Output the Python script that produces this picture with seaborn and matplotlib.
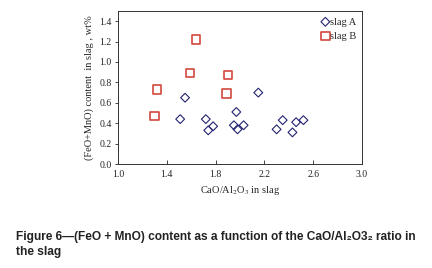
import matplotlib
matplotlib.use("Agg")
import matplotlib.pyplot as plt
import pandas as pd
import seaborn as sns

# slag A (diamonds)
ratio_a = [1.51, 1.55, 1.72, 1.74, 1.78, 1.95, 1.97, 1.98, 2.03, 2.15, 2.30, 2.35, 2.43, 2.46, 2.52]
feo_mno_a = [0.44, 0.65, 0.44, 0.33, 0.37, 0.38, 0.51, 0.34, 0.38, 0.70, 0.34, 0.43, 0.31, 0.41, 0.43]

# slag B (squares)
ratio_b = [1.32, 1.30, 1.64, 1.59, 1.90, 1.89]
feo_mno_b = [0.73, 0.47, 1.22, 0.89, 0.87, 0.69]

df = pd.concat([
    pd.DataFrame({"ratio": ratio_a, "content": feo_mno_a, "slag": "slag A"}),
    pd.DataFrame({"ratio": ratio_b, "content": feo_mno_b, "slag": "slag B"}),
])

sns.set_theme(style="ticks")
plt.rcParams["font.family"] = ["Liberation Serif", "DejaVu Serif"]
plt.rcParams["mathtext.fontset"] = "stix"

fig = plt.figure(figsize=(4.32, 2.68), dpi=100)
ax = fig.add_axes([0.273, 0.388, 0.565, 0.571])

a = df[df["slag"] == "slag A"]
b = df[df["slag"] == "slag B"]
sns.scatterplot(data=a, x="ratio", y="content", ax=ax, marker="D", s=20,
                facecolor="none", edgecolor="#232370", linewidth=0.8, label="slag A")
sns.scatterplot(data=b, x="ratio", y="content", ax=ax, marker="s", s=36,
                facecolor="none", edgecolor="#d2493e", linewidth=1.2, label="slag B")

ax.set_xlim(1.0, 3.0)
ax.set_ylim(0.0, 1.5)
ax.set_xticks([1.0, 1.4, 1.8, 2.2, 2.6, 3.0])
ax.set_yticks([0.0, 0.2, 0.4, 0.6, 0.8, 1.0, 1.2, 1.4])
ax.xaxis.set_major_formatter(matplotlib.ticker.FormatStrFormatter("%.1f"))
ax.yaxis.set_major_formatter(matplotlib.ticker.FormatStrFormatter("%.1f"))
ax.tick_params(axis="x", direction="in", length=3, width=0.6, labelsize=7, pad=4)
ax.tick_params(axis="y", direction="out", length=2.5, width=0.6, labelsize=7, pad=2)
for sp in ax.spines.values():
    sp.set_linewidth(0.7)
    sp.set_color("#333333")

ax.set_xlabel("CaO/Al$_2$O$_3$ in slag", fontsize=7.5, labelpad=4)
ax.set_ylabel("(FeO+MnO) content  in slag , wt%", fontsize=7.5, labelpad=4)

leg = ax.legend(loc="upper right", frameon=False, fontsize=7.5, handletextpad=-0.6,
                borderaxespad=0.2, labelspacing=0.5, markerscale=1.0)

cap_font = ["Liberation Sans", "DejaVu Sans"]
fig.text(0.037, 0.104, "Figure 6\u2014(FeO + MnO) content as a function of the CaO/Al\u2082O3\u2082 ratio in",
         fontsize=8.6, fontweight="bold", family=cap_font, color="#222222")
fig.text(0.037, 0.047, "the slag",
         fontsize=8.6, fontweight="bold", family=cap_font, color="#222222")

fig.savefig("out.png", dpi=100)
